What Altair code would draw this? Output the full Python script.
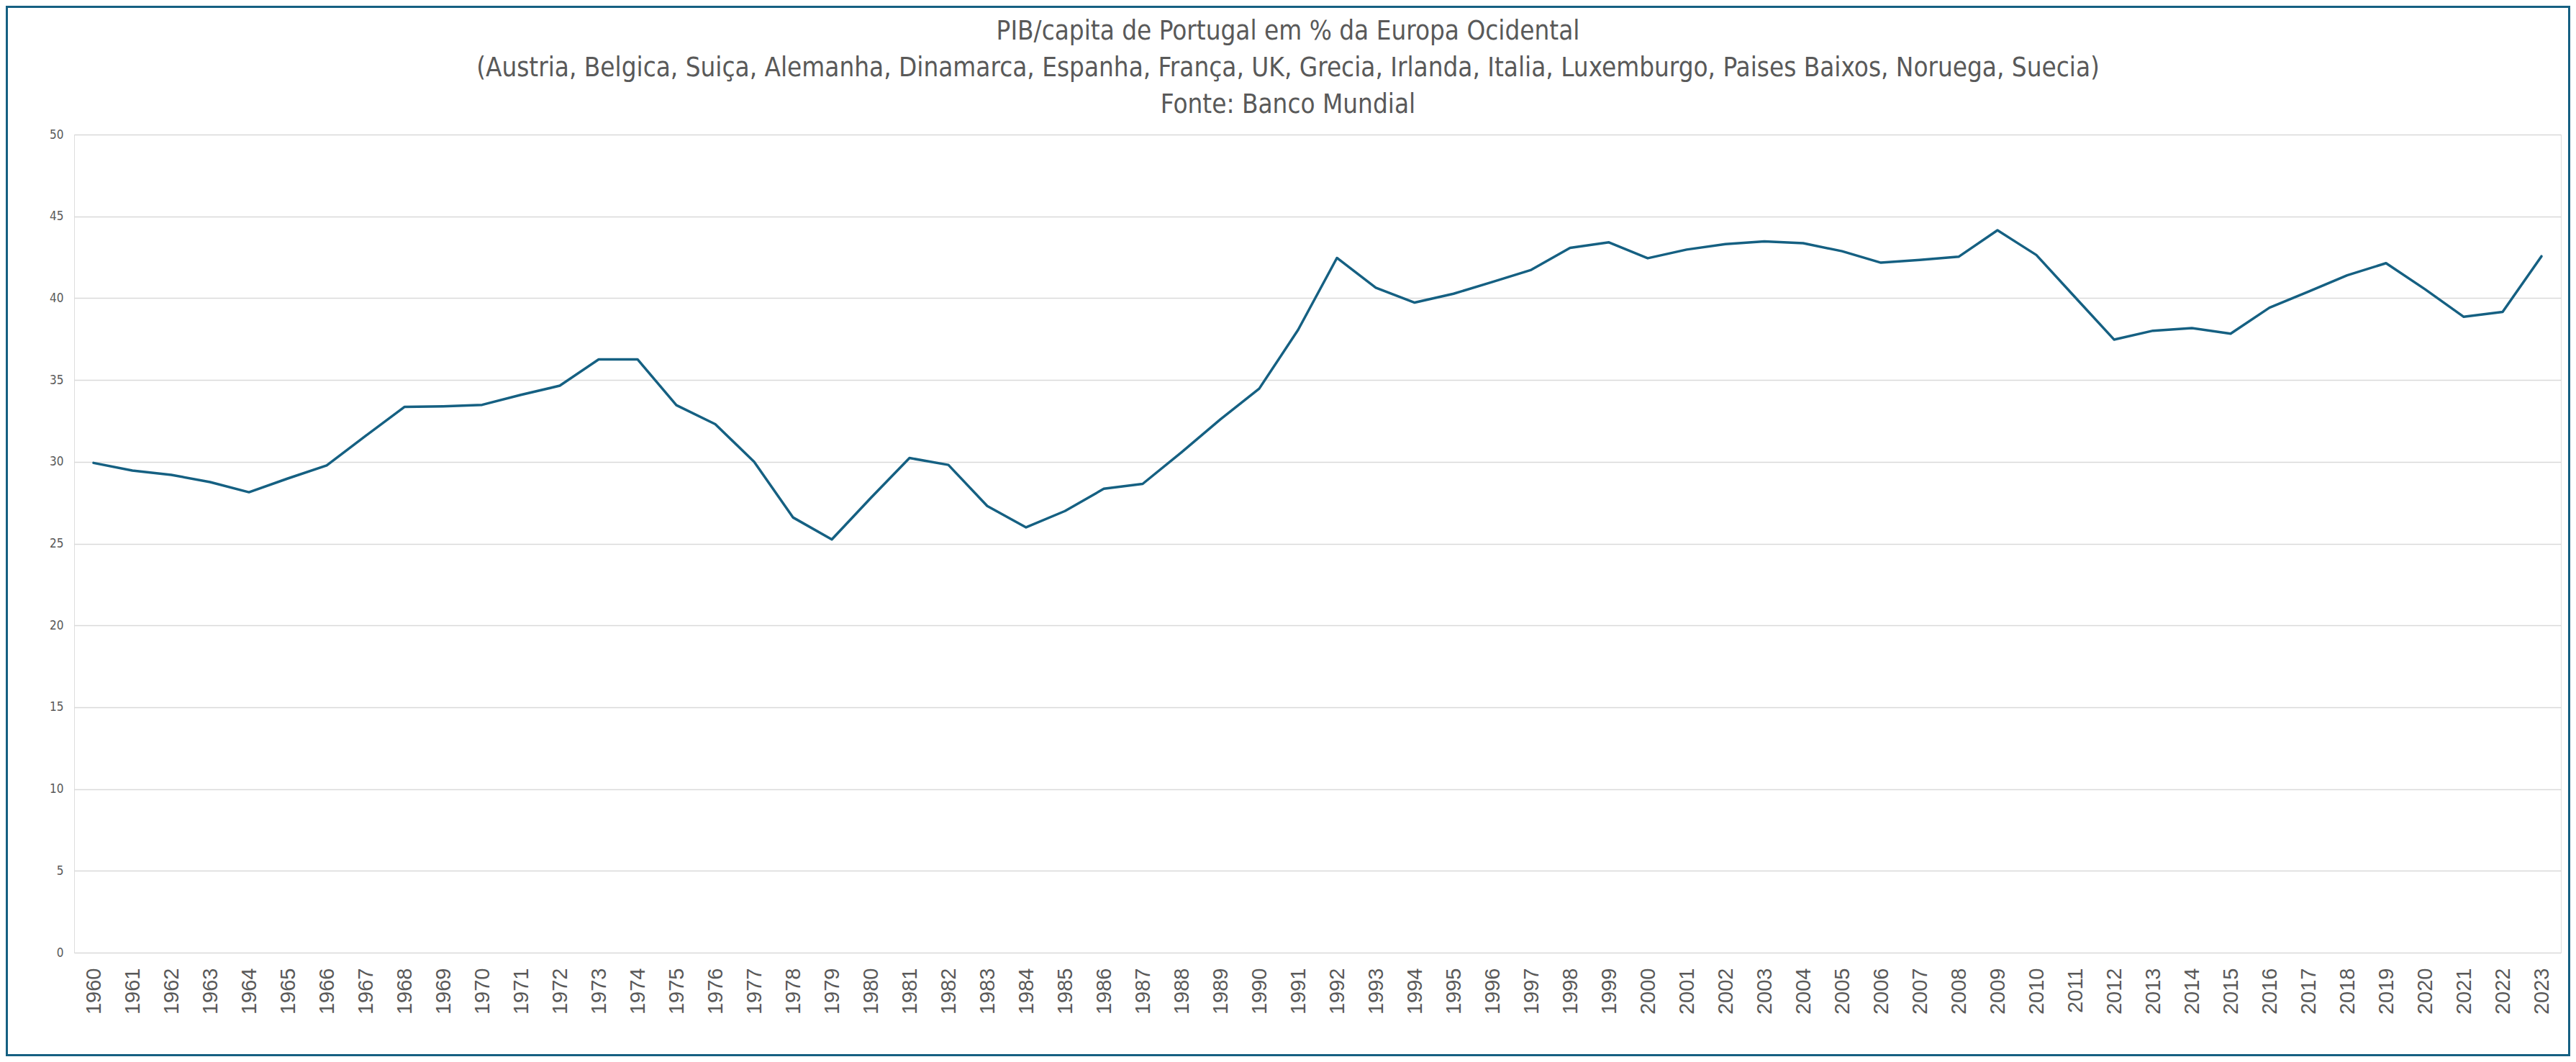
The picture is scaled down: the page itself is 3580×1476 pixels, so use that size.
import altair as alt
import pandas as pd

years = list(range(1960, 2024))
values = [
    29.93, 29.46, 29.2, 28.76, 28.14, 28.98, 29.78, 31.58, 33.35, 33.39,
    33.48, 34.09, 34.65, 36.26, 36.26, 33.46, 32.3, 30.0, 26.6, 25.25,
    27.78, 30.23, 29.81, 27.3, 25.99, 26.99, 28.35, 28.65, 30.58, 32.59,
    34.47, 38.06, 42.46, 40.64, 39.73, 40.27, 40.99, 41.73, 43.07, 43.41,
    42.44, 42.97, 43.3, 43.47, 43.36, 42.87, 42.17, 42.34, 42.53, 44.15,
    42.64, 40.05, 37.47, 38.01, 38.17, 37.83, 39.42, 40.4, 41.4, 42.14,
    40.55, 38.86, 39.16, 42.56,
]
y_ticks = [0, 5, 10, 15, 20, 25, 30, 35, 40, 45, 50]
title_lines = [
    "PIB/capita de Portugal em % da Europa Ocidental",
    "(Austria, Belgica, Suiça, Alemanha, Dinamarca, Espanha, França, UK, Grecia, Irlanda, Italia, Luxemburgo, Paises Baixos, Noruega, Suecia)",
    "Fonte: Banco Mundial",
]

df = pd.DataFrame({"ano": [str(y) for y in years], "valor": values})

W, H = 3456, 1137
PL, PT, PR, PB = 95, 179, 13, 144

NARROW = "Liberation Sans Narrow, DejaVu Sans Condensed, Roboto, sans-serif"

line = alt.Chart(df).mark_line(
    color="#156082", strokeWidth=3.5, strokeJoin="round", strokeCap="round"
).encode(
    x=alt.X(
        "ano:O",
        sort=None,
        scale=alt.Scale(type="point", padding=0.5),
        axis=alt.Axis(
            title=None,
            labelAngle=-90,
            labelAlign="right",
            labelBaseline="middle",
            labelFont="Liberation Sans",
            labelFontSize=29,
            labelColor="#595959",
            labelPadding=21,
            ticks=False,
            domain=False,
            grid=False,
        ),
    ),
    y=alt.Y(
        "valor:Q",
        scale=alt.Scale(domain=[0, 50], nice=False),
        axis=alt.Axis(
            title=None,
            values=y_ticks,
            labelFont=NARROW,
            labelFontSize=17,
            labelColor="#595959",
            labelPadding=15,
            ticks=False,
            domain=False,
            grid=True,
            gridColor="#d9d9d9",
            gridWidth=1.5,
        ),
    ),
)

one = pd.DataFrame({"k": [0]})

frame = alt.Chart(one).mark_rect(
    fill=None, stroke="#156082", strokeWidth=3, clip=False
).encode(
    x=alt.value(-PL + 1.5),
    x2=alt.value(W + PR - 1.5),
    y=alt.value(-PT + 1.5),
    y2=alt.value(H + PB - 1.5),
)

title = alt.Chart(one).mark_text(
    text=title_lines,
    font=NARROW,
    fontSize=36.5,
    color="#595959",
    lineHeight=51,
    align="center",
    baseline="alphabetic",
    clip=False,
).encode(
    x=alt.value(1790 - (8 + PL)),
    y=alt.value(55 - (8 + PT)),
)

chart = (
    alt.layer(line, frame, title)
    .properties(
        width=W,
        height=H,
        padding={"left": PL, "top": PT, "right": PR, "bottom": PB},
        autosize=alt.AutoSizeParams(type="none"),
    )
    .configure_view(stroke=None)
    .configure(background="white")
)

chart.save("out.html", embed_options={"renderer": "svg", "actions": False})
